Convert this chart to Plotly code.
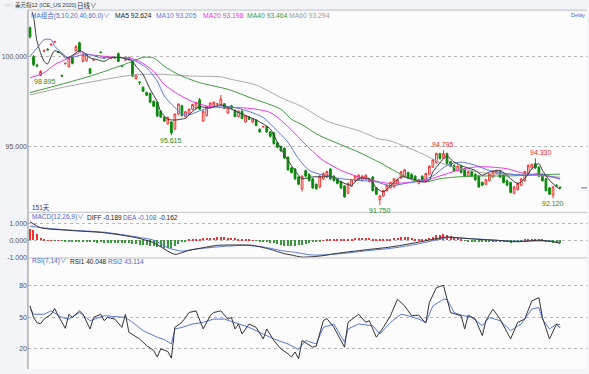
import plotly.graph_objects as go

FONT = "Liberation Sans, Noto Sans CJK SC, sans-serif"

# ---------------- data ----------------
days = list(range(151))

opens = [101.57, 99.97, 99.50, 98.93, 100.28, 100.38, 100.62, 100.78, 100.22, 98.92,
         99.58, 99.42, 99.95, 100.30, 100.74, 99.71, 99.75, 99.30, 99.78, 100.02,
         100.22, 99.92, 99.97, 99.88, 99.92, 100.14, 99.46, 99.78, 99.81, 99.71,
         98.76, 98.56, 98.27, 97.99, 97.94, 97.50, 97.45, 96.95, 96.62, 96.25,
         96.35, 95.96, 96.79, 97.25, 96.66, 96.82, 97.04, 97.12, 97.58, 96.40,
         96.70, 97.20, 97.26, 97.34, 97.30, 97.36, 96.85, 97.25, 97.00, 96.65,
         96.95, 96.35, 96.62, 96.35, 96.45, 95.95, 96.08, 96.10, 95.80, 95.75,
         95.20, 95.00, 94.90, 94.40, 93.80, 93.75, 93.30, 92.65, 93.65, 93.45,
         93.20, 92.90, 92.75, 93.20, 93.30, 93.75, 93.35, 93.20, 93.05, 92.80,
         92.40, 92.80, 93.10, 93.15, 93.10, 93.20, 93.05, 93.30, 92.70, 92.05,
         92.25, 92.55, 92.70, 92.75, 92.90, 93.25, 93.35, 93.55, 93.45, 93.35,
         92.95, 93.35, 93.05, 93.45, 93.85, 94.10, 94.60, 94.35, 94.60, 94.15,
         93.95, 93.65, 93.90, 93.75, 93.35, 93.60, 93.45, 93.35, 93.00, 92.90,
         93.10, 93.30, 93.50, 93.60, 93.45, 93.10, 93.00, 92.40, 92.60, 92.85,
         93.10, 93.50, 93.80, 94.05, 93.85, 93.45, 93.20, 92.70, 92.30, 92.85,
         92.74]
highs = [101.65, 100.05, 99.58, 99.22, 100.36, 100.44, 100.70, 100.86, 100.28, 98.98,
         99.66, 99.95, 100.00, 100.60, 100.80, 100.12, 100.14, 99.34, 99.84, 100.06,
         100.26, 99.96, 100.02, 99.94, 99.96, 100.20, 99.50, 99.84, 99.97, 99.75,
         99.00, 98.62, 98.32, 98.03, 97.98, 97.55, 97.50, 97.00, 96.68, 96.65,
         96.40, 96.82, 97.38, 97.30, 96.95, 97.10, 97.36, 97.45, 97.68, 96.98,
         97.24, 97.44, 97.48, 97.40, 97.85, 97.40, 97.18, 97.30, 97.06, 96.99,
         97.00, 96.74, 96.66, 96.55, 96.50, 96.00, 96.14, 96.15, 95.85, 95.80,
         95.24, 95.05, 94.95, 94.45, 93.86, 93.80, 93.36, 93.40, 93.72, 93.50,
         93.25, 92.95, 93.40, 93.55, 93.65, 93.80, 93.40, 93.25, 93.10, 92.85,
         93.00, 93.20, 93.40, 93.45, 93.40, 93.45, 93.25, 93.35, 92.75, 92.30,
         92.60, 92.90, 93.05, 93.25, 93.20, 93.65, 93.75, 93.60, 93.50, 93.40,
         93.20, 93.40, 93.55, 93.95, 94.30, 94.65, 94.65, 94.795, 94.65, 94.20,
         94.00, 93.95, 93.95, 93.80, 93.65, 93.65, 93.50, 93.40, 93.05, 93.20,
         93.50, 93.65, 93.70, 93.65, 93.50, 93.15, 93.05, 92.80, 93.00, 93.25,
         93.65, 94.00, 94.05, 94.33, 93.90, 93.50, 93.25, 92.75, 92.80, 92.90,
         92.78]
lows = [100.98, 99.45, 99.38, 98.895, 100.22, 100.30, 100.58, 100.74, 100.15, 98.85,
        99.52, 99.38, 99.55, 100.26, 100.22, 99.66, 99.70, 99.00, 99.74, 99.96,
        100.16, 99.86, 99.92, 99.84, 99.86, 99.68, 99.40, 99.74, 99.78, 98.86,
        98.70, 98.40, 98.02, 97.80, 97.40, 97.18, 96.64, 96.58, 96.35, 96.20,
        95.615, 95.90, 96.74, 96.66, 96.60, 96.78, 97.00, 97.08, 97.02, 96.35,
        96.66, 97.16, 97.22, 97.30, 97.26, 97.08, 96.80, 97.06, 96.62, 96.60,
        96.50, 96.30, 96.46, 96.30, 96.12, 95.76, 96.04, 95.76, 95.50, 95.10,
        94.90, 94.70, 94.30, 93.65, 93.50, 93.15, 92.85, 92.50, 93.30, 93.05,
        92.65, 92.60, 92.70, 93.15, 93.25, 93.15, 93.05, 92.90, 92.65, 92.15,
        92.35, 92.75, 93.05, 93.10, 93.05, 93.15, 93.00, 92.50, 92.30, 91.75,
        92.20, 92.50, 92.65, 92.70, 92.85, 93.20, 93.30, 93.20, 93.20, 93.10,
        92.90, 93.05, 93.00, 93.40, 93.80, 94.05, 94.28, 94.30, 94.00, 93.85,
        93.60, 93.60, 93.50, 93.30, 93.30, 93.30, 93.10, 92.70, 92.80, 92.85,
        93.05, 93.25, 93.45, 93.25, 92.95, 92.80, 92.40, 92.35, 92.55, 92.80,
        93.05, 93.45, 93.75, 93.75, 93.30, 93.05, 92.50, 92.30, 92.12, 92.76,
        92.66]
closes = [101.07, 99.53, 99.45, 99.15, 100.30, 100.35, 100.65, 100.80, 100.20, 98.90,
          99.60, 99.90, 99.60, 100.54, 100.26, 100.08, 100.10, 99.05, 99.80, 100.00,
          100.20, 99.90, 99.95, 99.90, 99.90, 99.71, 99.44, 99.80, 99.93, 98.89,
          98.95, 98.54, 98.05, 97.83, 97.45, 97.22, 96.68, 96.62, 96.40, 96.60,
          95.75, 96.79, 97.34, 96.70, 96.92, 97.06, 97.32, 97.42, 97.06, 96.95,
          97.20, 97.40, 97.45, 97.36, 97.62, 97.10, 97.15, 97.10, 96.65, 96.95,
          96.55, 96.70, 96.50, 96.52, 96.15, 95.80, 96.10, 95.80, 95.55, 95.15,
          94.95, 94.75, 94.35, 93.70, 93.55, 93.20, 92.90, 93.35, 93.35, 93.10,
          92.70, 92.65, 93.35, 93.50, 93.60, 93.20, 93.10, 92.95, 92.70, 92.20,
          92.95, 93.15, 93.35, 93.40, 93.35, 93.40, 93.20, 92.55, 92.35, 92.25,
          92.55, 92.85, 93.00, 93.20, 93.15, 93.60, 93.70, 93.25, 93.25, 93.15,
          93.15, 93.10, 93.50, 93.90, 94.25, 94.60, 94.32, 94.60, 94.05, 93.90,
          93.65, 93.90, 93.55, 93.35, 93.60, 93.35, 93.15, 92.75, 92.85, 93.15,
          93.45, 93.60, 93.65, 93.30, 93.00, 92.85, 92.45, 92.75, 92.95, 93.20,
          93.60, 93.95, 94.00, 93.80, 93.35, 93.10, 92.55, 92.35, 92.75, 92.80,
          92.70]

ma5_x = [0, 1, 2, 4, 5, 6, 7, 9, 10, 12, 14, 15, 17, 19, 21, 23, 26, 29, 30, 32, 34, 36, 37, 39,
         41, 44, 46, 48, 51, 54, 57, 60, 64, 68, 70, 73, 76, 77, 80, 83, 85, 88, 91, 93, 96, 98,
         100, 102, 105, 108, 111, 113, 114, 117, 118, 120, 123, 126, 128, 130, 133, 136, 138,
         140, 142, 144, 145, 147, 149, 150]
ma5_y = [102.8, 102.19, 100.81, 99.71, 99.57, 99.99, 100.30, 100.12, 99.90, 100.04, 100.30,
         100.23, 99.90, 99.81, 99.71, 99.93, 99.90, 99.71, 99.44, 98.98, 98.16, 97.48, 96.93,
         96.51, 96.46, 96.57, 96.93, 97.19, 97.12, 97.30, 97.06, 96.79, 96.46, 95.96, 95.23,
         94.22, 93.40, 93.21, 93.31, 93.31, 93.36, 93.03, 92.85, 93.21, 93.21, 92.70, 92.48,
         92.81, 93.31, 93.21, 93.03, 93.12, 93.58, 94.31, 94.46, 94.13, 93.86, 93.67, 93.40,
         93.58, 93.67, 93.21, 92.94, 93.21, 93.76, 94.04, 93.67, 93.12, 92.76, 92.624]
ma10_x = [0, 2, 4, 6, 7, 9, 11, 14, 17, 20, 23, 27, 30, 33, 36, 38, 41, 43, 45, 48, 51, 54, 58,
          62, 66, 69, 73, 76, 79, 83, 88, 93, 98, 102, 106, 111, 114, 118, 122, 126, 130, 135,
          140, 144, 147, 150]
ma10_y = [99.99, 100.45, 100.91, 100.91, 100.54, 100.18, 99.90, 100.04, 100.08, 99.90, 99.93,
          99.90, 99.71, 99.35, 98.62, 97.79, 97.15, 96.79, 96.75, 96.97, 97.15, 97.24, 97.15,
          96.93, 96.60, 96.05, 95.23, 94.31, 93.67, 93.40, 93.21, 93.12, 93.03, 92.81, 92.94,
          93.12, 93.36, 93.95, 94.13, 93.95, 93.67, 93.49, 93.40, 93.49, 93.36, 93.205]
ma20_x = [0, 4, 7, 11, 14, 17, 21, 24, 28, 31, 35, 38, 42, 46, 50, 54, 59, 64, 68, 71, 74, 79,
          83, 88, 93, 98, 102, 107, 112, 116, 121, 126, 130, 135, 140, 145, 150]
ma20_y = [98.80, 99.08, 99.53, 99.90, 100.18, 100.08, 99.99, 99.93, 99.90, 99.71, 99.16, 98.43,
          97.88, 97.48, 97.24, 97.15, 97.15, 97.06, 96.88, 96.45, 95.90, 94.90, 94.22, 93.67,
          93.31, 93.07, 92.94, 93.00, 93.12, 93.36, 93.67, 93.86, 93.86, 93.76, 93.49, 93.40,
          93.198]
ma40_x = [0, 7, 17, 24, 29, 32, 35, 38, 42, 48, 56, 63, 71, 74, 77, 81, 83, 93, 99, 104, 108,
          112, 116, 121, 127, 135, 145, 150]
ma40_y = [97.98, 98.34, 98.89, 99.35, 99.71, 99.93, 99.90, 99.44, 98.98, 98.53, 98.16, 97.65,
          97.06, 96.50, 96.20, 95.70, 95.50, 94.68, 94.10, 93.55, 93.15, 93.03, 93.21, 93.31,
          93.36, 93.36, 93.43, 93.464]
ma60_x = [0, 10, 29, 36, 45, 54, 57, 64, 71, 77, 84, 93, 99, 102, 112, 116, 121, 130, 140, 150]
ma60_y = [97.85, 98.30, 98.95, 99.00, 98.90, 98.85, 98.71, 98.40, 97.70, 97.20, 96.40, 95.87,
          95.40, 95.30, 94.50, 94.10, 93.80, 93.49, 93.43, 93.294]

diff_x = [0, 3, 11, 21, 30, 35, 39, 41, 45, 49, 53, 58, 63, 68, 72, 74, 77, 82, 88, 96, 102,
          109, 114, 118, 121, 127, 132, 138, 144, 148, 150]
diff_y = [1.09, 0.74, 0.58, 0.44, 0.15, -0.15, -0.64, -0.83, -0.60, -0.44, -0.30, -0.28, -0.30,
          -0.54, -0.79, -0.87, -0.99, -0.93, -0.74, -0.54, -0.40, -0.15, 0.05, 0.19, 0.15, 0.05,
          0.00, -0.09, 0.00, -0.09, -0.189]
dea_x = [0, 3, 11, 21, 30, 35, 39, 43, 46, 55, 61, 66, 72, 74, 80, 88, 96, 102, 109, 114, 118,
         124, 130, 135, 142, 147, 150]
dea_y = [0.83, 0.74, 0.60, 0.47, 0.20, 0.00, -0.44, -0.64, -0.54, -0.36, -0.30, -0.40, -0.64,
         -0.68, -0.87, -0.79, -0.60, -0.48, -0.25, -0.03, 0.15, 0.10, 0.03, -0.05, -0.05, -0.05,
         -0.108]
macd_hist = [0.70, 0.60, 0.35, 0.15,
             0.03, 0.02, 0.02, -0.02, 0.02, -0.02,
             -0.05, -0.08, -0.06, -0.10, -0.09, -0.11, -0.10, -0.12, -0.11, -0.13, -0.12,
             -0.14, -0.13, -0.15, -0.14, -0.16, -0.17, -0.18, -0.17, -0.20, -0.22, -0.24, -0.26, -0.28,
             -0.30, -0.33, -0.36, -0.40, -0.43, -0.45, -0.42, -0.32, -0.22, -0.12, -0.04,
             0.03, 0.06, 0.08, 0.10, 0.12, 0.13, 0.15, 0.16, 0.18, 0.20, 0.19, 0.17, 0.15, 0.12,
             0.10, 0.08, 0.05, 0.03, 0.02,
             -0.03, -0.06, -0.09, -0.12, -0.15, -0.18, -0.22, -0.26, -0.30, -0.33, -0.32, -0.30,
             -0.27, -0.24, -0.20, -0.16, -0.12, -0.08,
             -0.04, 0.02, 0.04, 0.05, 0.04, 0.03, 0.04, 0.05, 0.08, 0.10, 0.12, 0.15, 0.16, 0.15,
             0.12, 0.06, 0.03, 0.04, 0.05, 0.07, 0.10, 0.14, 0.17, 0.20, 0.21, 0.19, 0.15, 0.10,
             0.06, 0.05, 0.10, 0.16, 0.22, 0.30, 0.34, 0.36, 0.33, 0.28, 0.22, 0.15, 0.08,
             -0.03, -0.05, -0.07, -0.09, -0.11, -0.12, -0.10, -0.09, -0.08, -0.06, -0.07, -0.10,
             -0.12, -0.13, -0.10, -0.07, -0.03, 0.03,
             0.07, 0.10, 0.11, 0.08, 0.03,
             -0.06, -0.12, -0.15, -0.16, -0.162]

rsi1_x = [0, 1, 2, 3, 4, 6, 7, 8, 10, 11, 12, 14, 15, 17, 18, 20, 21, 22, 24, 26, 27, 28, 31,
          33, 35, 36, 37, 39, 40, 41, 43, 44, 45, 47, 48, 49, 51, 52, 54, 56, 57, 58, 59, 60, 62,
          64, 66, 67, 69, 71, 73, 74, 75, 76, 77, 80, 81, 83, 84, 86, 89, 90, 93, 95, 96, 98, 100,
          102, 104, 106, 108, 110, 112, 113, 115, 117, 119, 122, 123, 124, 126, 128, 129, 131,
          133, 136, 138, 140, 142, 144, 145, 147, 149, 150]
rsi1_y = [61, 50, 45, 44, 48.4, 53, 58.5, 51.6, 39.6, 53, 50, 56.3, 53, 39, 50, 53, 46.9, 50,
          48.4, 40.5, 53, 35.8, 29.5, 23.2, 18.5, 12.2, 20, 17.5, 11.2, 40.5, 45.3, 50, 54.7,
          56.3, 48.4, 39, 51.6, 54.7, 56.3, 48.4, 50, 39, 43.7, 34.2, 43.7, 40.5, 29.5, 39, 28,
          20, 15.3, 12.2, 17, 10.6, 28, 21.6, 22.6, 46.9, 49, 40.5, 21.6, 45.3, 53, 45.3, 46.9,
          31.1, 40.5, 51.6, 67.3, 61, 51.6, 52.2, 44.6, 64.2, 78.4, 80.6, 54.7, 51.6, 39, 52.2,
          48.4, 32.7, 46.9, 57.9, 48.4, 29.5, 45.3, 48.4, 65.8, 68.9, 50, 29.5, 43.7, 40.048]
rsi2_x = [0, 1, 4, 6, 9, 11, 14, 17, 21, 24, 27, 29, 32, 36, 38, 40, 41, 43, 46, 49, 52, 55,
          58, 62, 66, 69, 73, 76, 78, 81, 83, 86, 89, 90, 93, 97, 99, 102, 105, 107, 110, 112,
          114, 117, 118, 120, 122, 125, 128, 130, 133, 136, 139, 142, 144, 145, 147, 149, 150]
rsi2_y = [59.5, 53, 53, 56.3, 50, 48.4, 54.7, 46.9, 51.6, 51, 50, 45.3, 37.4, 31.1, 28.9, 24.7,
          39, 40.5, 43.7, 45.3, 48.4, 48.4, 45.3, 40.5, 34.2, 29.5, 24.7, 19.4, 28, 24.7, 40.5,
          43.7, 26.4, 39, 43.7, 42.1, 34.2, 45.3, 53, 51.6, 48.4, 45.3, 61, 67.3, 67.3, 54.7,
          52.2, 50, 42.1, 50, 46.9, 37.4, 43.7, 57.9, 59.5, 48.4, 39, 43.7, 43.114]

low_marks = [3, 40, 99, 148]
high_marks = [117, 143]

for a, b in [(opens, days), (highs, days), (lows, days), (closes, days), (macd_hist, days),
             (ma5_x, ma5_y), (ma10_x, ma10_y), (ma20_x, ma20_y), (ma40_x, ma40_y),
             (ma60_x, ma60_y), (diff_x, diff_y), (dea_x, dea_y), (rsi1_x, rsi1_y), (rsi2_x, rsi2_y)]:
    assert len(a) == len(b), (len(a), len(b))

# ---------------- styling ----------------
RED = "#f03232"
GREEN = "#0a880a"
C_MA5 = "#3c3c3c"
C_MA10 = "#5a78d8"
C_MA20 = "#e838e0"
C_MA40 = "#3f9a3f"
C_MA60 = "#a8a8a8"
BLUE_TXT = "#4a68d0"
GRID = "#b8b8b8"

W, H = 589, 374
L, R, T, B = 25, 2, 12, 2
PW, PH = W - L - R, H - T - B


def px_x(x):
    return (x - L) / PW


def px_y(y):
    return (H - B - y) / PH


fig = go.Figure()

fig.add_trace(go.Candlestick(
    x=days, open=opens, high=highs, low=lows, close=closes,
    increasing=dict(line=dict(color=RED, width=1), fillcolor="#ffffff"),
    decreasing=dict(line=dict(color=GREEN, width=1), fillcolor=GREEN),
    whiskerwidth=0, xaxis="x", yaxis="y", hoverinfo="skip"))

for xs, ys, col in [(ma60_x, ma60_y, C_MA60), (ma40_x, ma40_y, C_MA40), (ma20_x, ma20_y, C_MA20),
                    (ma10_x, ma10_y, C_MA10), (ma5_x, ma5_y, C_MA5)]:
    fig.add_trace(go.Scatter(x=xs, y=ys, mode="lines",
                             line=dict(color=col, width=1, shape="spline", smoothing=0.7),
                             xaxis="x", yaxis="y", hoverinfo="skip"))

fig.add_trace(go.Bar(x=days, y=macd_hist, width=0.3,
                     marker=dict(color=[RED if v >= 0 else "#3a9a3a" for v in macd_hist],
                                 line=dict(width=0)),
                     xaxis="x2", yaxis="y2", hoverinfo="skip"))
fig.add_trace(go.Scatter(x=dea_x, y=dea_y, mode="lines",
                         line=dict(color=C_MA10, width=1, shape="spline", smoothing=0.7),
                         xaxis="x2", yaxis="y2", hoverinfo="skip"))
fig.add_trace(go.Scatter(x=diff_x, y=diff_y, mode="lines",
                         line=dict(color="#333333", width=1, shape="spline", smoothing=0.7),
                         xaxis="x2", yaxis="y2", hoverinfo="skip"))

fig.add_trace(go.Scatter(x=rsi2_x, y=rsi2_y, mode="lines", line=dict(color=C_MA10, width=1),
                         xaxis="x3", yaxis="y3", hoverinfo="skip"))
fig.add_trace(go.Scatter(x=rsi1_x, y=rsi1_y, mode="lines", line=dict(color="#333333", width=1),
                         xaxis="x3", yaxis="y3", hoverinfo="skip"))

xr = [(L - 27) / 3.553, (W - R - 27) / 3.553]
xcommon = dict(range=xr, showticklabels=False, showgrid=False, zeroline=False, showline=False,
               ticks="", fixedrange=True)
tickfont = dict(size=7, color="#555555", family=FONT)
ycommon = dict(showgrid=True, gridcolor=GRID, griddash="dot", gridwidth=1, zeroline=False,
               showline=False, ticks="", tickfont=tickfont, fixedrange=True)

fig.update_layout(
    width=W, height=H, margin=dict(l=L, r=R, t=T, b=B, pad=0),
    paper_bgcolor="#f3f4f8", plot_bgcolor="#fcfcfd",
    showlegend=False, hovermode=False, bargap=0,
    xaxis=dict(domain=[0, 1], anchor="y", rangeslider=dict(visible=False), **xcommon),
    xaxis2=dict(domain=[0, 1], anchor="y2", matches="x", **xcommon),
    xaxis3=dict(domain=[0, 1], anchor="y3", matches="x", **xcommon),
    yaxis=dict(domain=[px_y(213.5), 1], range=[91.374, 102.445],
               tickvals=[95, 100], ticktext=["95.000", "100.000"], **ycommon),
    yaxis2=dict(domain=[px_y(260), px_y(214.5)], range=[-1.041, 1.612],
                tickvals=[-1, 0, 1], ticktext=["-1.000", "0.000", "1.000"], **ycommon),
    yaxis3=dict(domain=[0, px_y(260.5)], range=[0.79, 106.3],
                tickvals=[20, 50, 80], ticktext=["20", "50", "80"], **ycommon),
)

shapes = []
# left axis line
shapes.append(dict(type="line", xref="paper", yref="paper", x0=0, x1=0, y0=0, y1=px_y(10),
                   line=dict(color="#8c8c8c", width=1)))
# header separator and panel separators
for yy in (10, 214, 260):
    shapes.append(dict(type="line", xref="paper", yref="paper", x0=0, x1=1,
                       y0=px_y(yy), y1=px_y(yy), line=dict(color="#c4c4c4", width=1)))
# last price marker at the right
shapes.append(dict(type="line", xref="x", yref="y", x0=len(days) + 5, x1=len(days) + 6.8,
                   y0=closes[-1], y1=closes[-1], line=dict(color="#4a68d0", width=1)))
fig.update_layout(shapes=shapes)

ann = []


def txt(x, y, s, color, size=6.5, xanchor="left"):
    ann.append(dict(xref="paper", yref="paper", x=px_x(x), y=px_y(y), text=s, showarrow=False,
                    xanchor=xanchor, yanchor="middle", font=dict(size=size, color=color, family=FONT)))


txt(0, 5, "○○", "#777777", 5)
txt(10, 5, "美元指12 (ICE_US 2020)", "#333333", 5.5)
txt(72, 5, "日线∨", "#333333", 6.5)

txt(26, 15.5, "MA组合(5,10,20,40,60,0)∨", BLUE_TXT, 6.5)
txt(110, 15.5, "MA5 92.624", "#222222", 6.8)
txt(152, 15.5, "MA10 93.205", C_MA10, 6.8)
txt(199, 15.5, "MA20 93.198", C_MA20, 6.8)
txt(243, 15.5, "MA40 93.464", C_MA40, 6.8)
txt(285, 15.5, "MA60 93.294", "#999999", 6.8)
txt(587, 15.5, "Delay", BLUE_TXT, 5.5, "right")

txt(27, 210, "151天", "#33337a", 6.5)

txt(27, 219, "MACD(12,26,9)∨", BLUE_TXT, 6.5)
txt(82, 219, "DIFF -0.189", "#222222", 6.5)
txt(118, 219, "DEA -0.108", BLUE_TXT, 6.5)
txt(155, 219, "-0.162", "#222222", 6.5)

txt(27, 263.5, "RSI(7,14)∨", BLUE_TXT, 6.5)
txt(65, 263.5, "RSI1 40.048", "#222222", 6.5)
txt(103, 263.5, "RSI2 43.114", BLUE_TXT, 6.5)

low_shift = {3: 4, 40: 0, 99: 0, 148: 0}
for i in low_marks:
    ann.append(dict(xref="x", yref="y", x=days[i], y=lows[i], text=f"{lows[i]:.3f}",
                    showarrow=False, xanchor="center", yanchor="top", yshift=0,
                    xshift=low_shift[i], font=dict(size=7, color="#2a8a2a", family=FONT)))
high_shift = {117: 0, 143: 6}
for i in high_marks:
    ann.append(dict(xref="x", yref="y", x=days[i], y=highs[i], text=f"{highs[i]:.3f}",
                    showarrow=False, xanchor="center", yanchor="bottom", yshift=0,
                    xshift=high_shift[i], font=dict(size=7, color="#e03030", family=FONT)))

fig.update_layout(annotations=ann)

fig.write_html("out.html", config={"displayModeBar": False},
               post_script="document.body.style.margin='0px';document.body.style.padding='0px';")
